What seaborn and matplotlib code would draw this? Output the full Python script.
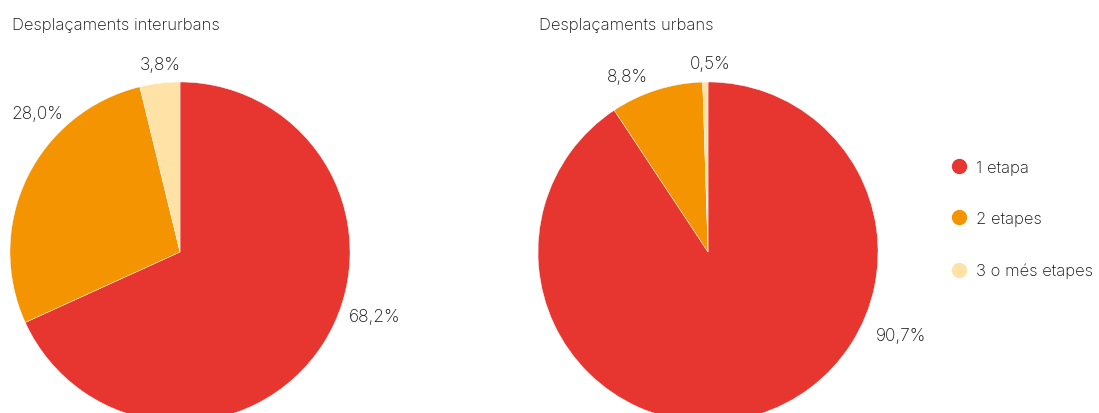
import matplotlib
matplotlib.use("Agg")
import matplotlib.pyplot as plt
from matplotlib.lines import Line2D
import numpy as np
import seaborn as sns

sns.set_theme(style="white")
plt.rcParams["font.family"] = ["Inter", "DejaVu Sans"]
plt.rcParams["font.weight"] = "light"

# Data
categories = ["1 etapa", "2 etapes", "3 o més etapes"]
interurban_pct = [68.2, 28.0, 3.8]
urban_pct = [90.7, 8.8, 0.5]
panel_titles = ["Desplaçaments interurbans", "Desplaçaments urbans"]

colors = ["#E6362F", "#F39400", "#FFE2A6"]
text_color = "#111111"

W, H = 1099, 414
fig = plt.figure(figsize=(W / 100, H / 100), dpi=100)
ax = fig.add_axes([0, 0, 1, 1])
ax.set_xlim(0, W)
ax.set_ylim(0, H)
ax.axis("off")

# pie layout in pixel space (y measured upward)
centers = [(180, 161), (708, 161)]
radius = 170
# label placement (polar, relative to each pie centre)
label_angles = [[-18.4, 136.0, 96.1], [-23.5, 114.8, 89.4]]
label_dists = [[205, 199, 189], [210, 193, 189]]
title_x = [12, 539]

for i, values in enumerate([interurban_pct, urban_pct]):
    cx, cy = centers[i]
    ax.pie(values, colors=colors, startangle=90, counterclock=False,
           center=(cx, cy), radius=radius,
           wedgeprops=dict(linewidth=0.3, edgecolor="white"))
    for v, a, d in zip(values, label_angles[i], label_dists[i]):
        t = np.deg2rad(a)
        ax.text(cx + d * np.cos(t), cy + d * np.sin(t),
                f"{v:.1f}%".replace(".", ","), ha="center", va="center",
                fontsize=12.5, color=text_color, fontweight="light")
    ax.text(title_x[i], H - 25, panel_titles[i], ha="left", va="center",
            fontsize=12, color=text_color, fontweight="light")

ax.set_xlim(0, W)
ax.set_ylim(0, H)
ax.set_aspect("auto")

handles = [Line2D([0], [0], marker="o", linestyle="none", markersize=10,
                  markerfacecolor=c, markeredgecolor=c) for c in colors]
leg = fig.legend(handles, categories, loc="center left",
                 bbox_to_anchor=(934 / W, 1 - 220 / H), frameon=False,
                 fontsize=12, labelspacing=2.2, handletextpad=0.45,
                 handlelength=1.2, labelcolor=text_color)
for t in leg.get_texts():
    t.set_fontweight("light")

fig.savefig("out.png", dpi=100)
